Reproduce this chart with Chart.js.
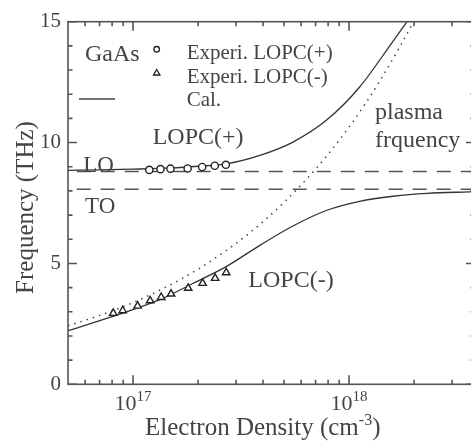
<!DOCTYPE html>
<html>
<head>
<meta charset="utf-8">
<script src="https://cdn.jsdelivr.net/npm/chart.js@4.4.1/dist/chart.umd.min.js"></script>
<style>
  html, body { margin: 0; padding: 0; background: #fff; overflow: hidden; }
  #wrap { width: 471px; height: 441px; overflow: hidden; }
  canvas { display: block; }
</style>
</head>
<body>
<div id="wrap"><canvas id="myChart" width="500" height="441"></canvas></div>
<script>
// Experimental points (density in cm^-3, frequency in THz)
const expPlusDensity = [1.19e17, 1.34e17, 1.49e17, 1.79e17, 2.09e17, 2.39e17, 2.69e17];
const expPlusFreq = [8.87, 8.90, 8.92, 8.93, 8.99, 9.04, 9.08];
const expMinusDensity = [8.1e16, 8.96e16, 1.05e17, 1.2e17, 1.35e17, 1.5e17, 1.8e17, 2.1e17, 2.4e17, 2.7e17];
const expMinusFreq = [2.94, 3.05, 3.24, 3.46, 3.60, 3.74, 3.98, 4.18, 4.39, 4.62];

// Calculated curves
const calPlusDensity = [5e16, 7e16, 1e17, 1.5e17, 2e17, 2.7e17, 3.9e17, 5.5e17, 7.9e17, 1.12e18, 1.6e18, 2e18];
const calPlusFreq = [8.85, 8.87, 8.9, 8.95, 9.02, 9.12, 9.48, 10.02, 10.94, 12.3, 14.2, 15.4];
const calMinusDensity = [5e16, 8e16, 1.33e17, 1.9e17, 2.7e17, 3.9e17, 5.5e17, 7.9e17, 1.12e18, 1.6e18, 2.3e18, 3.6e18, 3.9e18];
const calMinusFreq = [2.22, 2.8, 3.5, 4.18, 4.87, 5.77, 6.55, 7.2, 7.57, 7.78, 7.9, 7.96, 7.97];
const plasmaDensity = [5e16, 7e16, 1e17, 1.5e17, 2e17, 3e17, 4e17, 5e17, 7e17, 1e18, 1.4e18, 2e18, 2.2e18];
const plasmaFreq = [2.42, 2.85, 3.38, 4.13, 4.76, 5.83, 6.73, 7.53, 8.9, 10.64, 12.6, 15.05, 15.8];

// Phonon lines
const loFreq = 8.8;
const toFreq = 8.07;

// Axes
const xMin = 5e16;
const xMax = 3.83e18;
const xMajorTicks = [1e17, 1e18];
const xMajorExp = ['17', '18'];
const xMinorTicks = [6e16, 7e16, 8e16, 9e16, 2e17, 3e17, 4e17, 5e17, 6e17, 7e17, 8e17, 9e17, 2e18, 3e18];
const yTicks = [0, 1, 2, 3, 4, 5, 6, 7, 8, 9, 10, 11, 12, 13, 14, 15];
const yLabels = [0, 5, 10, 15];

const FONT = "'Liberation Serif', 'Times New Roman', serif";
const INK = '#444';

function toPoints(xs, ys) {
    return xs.map((x, i) => ({ x: x, y: ys[i] }));
}

function font(size) {
    return size + 'px ' + FONT;
}

// Frame, inward ticks and all the text
const decorPlugin = {
    id: 'decor',
    afterDraw(chart) {
        const ctx = chart.ctx;
        const area = chart.chartArea;
        const xs = chart.scales.x;
        const ys = chart.scales.y;
        ctx.save();
        ctx.strokeStyle = '#555';
        ctx.lineWidth = 1.6;
        ctx.strokeRect(area.left, area.top, area.right - area.left, area.bottom - area.top);

        ctx.beginPath();
        yTicks.forEach((v) => {
            const py = ys.getPixelForValue(v);
            const len = yLabels.includes(v) ? 9 : 4.5;
            ctx.moveTo(area.left, py);
            ctx.lineTo(area.left + len, py);
            ctx.moveTo(area.right, py);
            ctx.lineTo(area.right - len, py);
        });
        xMajorTicks.concat(xMinorTicks).forEach((v) => {
            const px = xs.getPixelForValue(v);
            const len = xMajorTicks.includes(v) ? 9 : 4.5;
            ctx.moveTo(px, area.bottom);
            ctx.lineTo(px, area.bottom - len);
            ctx.moveTo(px, area.top);
            ctx.lineTo(px, area.top + len);
        });
        ctx.stroke();

        ctx.fillStyle = INK;
        // y tick labels
        ctx.font = font(21);
        ctx.textAlign = 'right';
        ctx.textBaseline = 'middle';
        yLabels.forEach((v) => {
            ctx.fillText(String(v), area.left - 7, ys.getPixelForValue(v));
        });

        // x tick labels with exponents
        ctx.textAlign = 'left';
        ctx.textBaseline = 'alphabetic';
        xMajorTicks.forEach((v, i) => {
            ctx.font = font(22);
            const w1 = ctx.measureText('10').width;
            ctx.font = font(15);
            const w2 = ctx.measureText(xMajorExp[i]).width;
            const x0 = xs.getPixelForValue(v) - (w1 + w2) / 2;
            ctx.font = font(22);
            ctx.fillText('10', x0, 410);
            ctx.font = font(15);
            ctx.fillText(xMajorExp[i], x0 + w1, 401);
        });

        // axis titles
        ctx.font = font(25);
        ctx.fillText('Electron Density (cm', 145, 435);
        let w = ctx.measureText('Electron Density (cm').width;
        ctx.font = font(16);
        ctx.fillText('-3', 145 + w, 425);
        const w3 = ctx.measureText('-3').width;
        ctx.font = font(25);
        ctx.fillText(')', 145 + w + w3, 435);

        ctx.save();
        ctx.translate(33, 207.5);
        ctx.rotate(-Math.PI / 2);
        ctx.textAlign = 'center';
        ctx.fillText('Frequency (THz)', 0, 0);
        ctx.restore();

        // labels inside the plot
        ctx.font = font(24);
        ctx.fillText('GaAs', 85, 60.7);
        ctx.fillText('LOPC(+)', 152.7, 144);
        ctx.fillText('LOPC(-)', 248.3, 286.7);
        ctx.fillText('plasma', 375, 119);
        ctx.fillText('frquency', 375, 147.3);
        ctx.font = font(23);
        ctx.fillText('LO', 83.3, 172);
        ctx.fillText('TO', 85, 212.7);

        // legend
        ctx.font = font(21);
        ctx.fillText('Experi. LOPC(+)', 186.7, 59.3);
        ctx.fillText('Experi. LOPC(-)', 186.7, 83.3);
        ctx.fillText('Cal.', 186.7, 106);

        ctx.strokeStyle = '#222';
        ctx.lineWidth = 1.3;
        ctx.beginPath();
        ctx.arc(156.7, 49.3, 2.8, 0, Math.PI * 2);
        ctx.stroke();
        ctx.beginPath();
        ctx.moveTo(156.7, 69.5);
        ctx.lineTo(159.9, 75);
        ctx.lineTo(153.5, 75);
        ctx.closePath();
        ctx.stroke();
        ctx.strokeStyle = INK;
        ctx.lineWidth = 1.3;
        ctx.beginPath();
        ctx.moveTo(79, 99);
        ctx.lineTo(115, 99);
        ctx.stroke();
        ctx.restore();
    }
};

const ctx = document.getElementById('myChart').getContext('2d');
const myChart = new Chart(ctx, {
    type: 'scatter',
    data: {
        datasets: [
            {
                label: 'Experi. LOPC(+)',
                data: toPoints(expPlusDensity, expPlusFreq),
                pointStyle: 'circle',
                pointRadius: 3.6,
                borderColor: '#222',
                backgroundColor: '#fff',
                borderWidth: 1.4,
                showLine: false
            },
            {
                label: 'Experi. LOPC(-)',
                data: toPoints(expMinusDensity, expMinusFreq),
                pointStyle: 'triangle',
                pointRadius: 4.3,
                borderColor: '#222',
                backgroundColor: '#fff',
                borderWidth: 1.4,
                showLine: false
            },
            {
                label: 'Cal. LOPC(+)',
                data: toPoints(calPlusDensity, calPlusFreq),
                showLine: true,
                pointRadius: 0,
                borderColor: '#333',
                borderWidth: 1.3,
                cubicInterpolationMode: 'monotone'
            },
            {
                label: 'Cal. LOPC(-)',
                data: toPoints(calMinusDensity, calMinusFreq),
                showLine: true,
                pointRadius: 0,
                borderColor: '#333',
                borderWidth: 1.3,
                cubicInterpolationMode: 'monotone'
            },
            {
                label: 'plasma frquency',
                data: toPoints(plasmaDensity, plasmaFreq),
                showLine: true,
                pointRadius: 0,
                borderColor: '#444',
                borderWidth: 1.5,
                borderDash: [1.5, 5],
                cubicInterpolationMode: 'monotone'
            },
            {
                label: 'LO',
                data: toPoints([xMin, xMax], [loFreq, loFreq]),
                showLine: true,
                pointRadius: 0,
                borderColor: '#555',
                borderWidth: 1.4,
                borderDash: [14, 10],
                borderDashOffset: 15.3
            },
            {
                label: 'TO',
                data: toPoints([xMin, xMax], [toFreq, toFreq]),
                showLine: true,
                pointRadius: 0,
                borderColor: '#555',
                borderWidth: 1.4,
                borderDash: [14, 10],
                borderDashOffset: 15.3
            }
        ]
    },
    options: {
        responsive: false,
        animation: false,
        devicePixelRatio: 1,
        layout: { padding: { left: 68, top: 21.7, right: 25, bottom: 56.7 } },
        plugins: { legend: { display: false }, tooltip: { enabled: false } },
        scales: {
            x: { type: 'logarithmic', min: xMin, max: xMax, display: false },
            y: { type: 'linear', min: 0, max: 15, display: false }
        }
    },
    plugins: [decorPlugin]
});
</script>
</body>
</html>
